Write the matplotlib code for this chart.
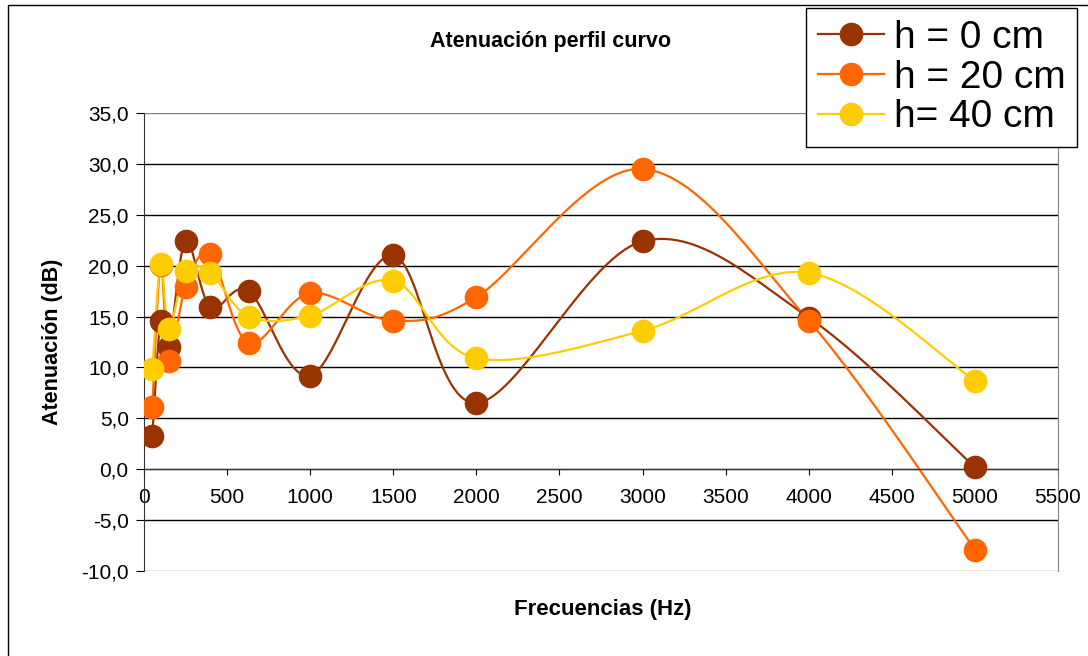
import numpy as np
import matplotlib as mpl
mpl.use('Agg')
import matplotlib.pyplot as plt
from matplotlib.patches import Rectangle

mpl.rcParams['font.family'] = ['Liberation Sans', 'DejaVu Sans']

freqs = [50, 100, 150, 250, 400, 630, 1000, 1500, 2000, 3000, 4000, 5000]
h0 = [3.3, 14.6, 12.0, 22.4, 15.9, 17.5, 9.2, 21.0, 6.5, 22.4, 14.9, 0.2]
h20 = [6.1, 20.1, 10.6, 17.9, 21.1, 12.4, 17.3, 14.6, 16.9, 29.5, 14.6, -7.9]
h40 = [9.8, 20.2, 13.8, 19.5, 19.3, 15.0, 15.1, 18.5, 10.9, 13.6, 19.3, 8.7]
labels = ['h = 0 cm', 'h = 20 cm', 'h= 40 cm']
colors = ['#993300', '#FF6600', '#FFCC00']
yticks = np.arange(-10, 36, 5)
xticks = np.arange(0, 5501, 500)


def smooth(ax, x, y, n=30):
    # excel-like bezier smoothing done in screen coordinates
    pts = ax.transData.transform(np.column_stack([x, y]))
    out = []
    for i in range(len(pts) - 1):
        p0 = pts[max(i - 1, 0)]
        p1 = pts[i]
        p2 = pts[i + 1]
        p3 = pts[min(i + 2, len(pts) - 1)]
        c1 = p1 + (p2 - p0) / 6.0
        c2 = p2 - (p3 - p1) / 6.0
        t = np.linspace(0, 1, n)[:, None]
        seg = ((1 - t) ** 3) * p1 + 3 * ((1 - t) ** 2) * t * c1 + 3 * (1 - t) * t ** 2 * c2 + t ** 3 * p2
        out.append(seg)
    out = np.vstack(out)
    return ax.transData.inverted().transform(out)


fig = plt.figure(figsize=(10.88, 6.56), dpi=100)
ax = fig.add_axes([144 / 1088, 1 - 571 / 656, (1058 - 144) / 1088, (571 - 113) / 656])

# outer chart frame
fig.patches.append(Rectangle((8 / 1088, -0.1), 1.2, 1 - 5 / 656 + 0.1, transform=fig.transFigure,
                             fill=False, edgecolor='black', lw=1))

ax.set_xlim(0, 5500)
ax.set_ylim(-10, 35)

for yv in yticks:
    ax.axhline(yv, color='gray' if yv in (-10, 35) else 'black', lw=1, zorder=1)

for vals, col, lab in zip([h0, h20, h40], colors, labels):
    xy = smooth(ax, freqs, vals)
    ax.plot(xy[:, 0], xy[:, 1], color=col, lw=1.6, zorder=2)
    ax.plot(freqs, vals, 'o', color=col, ms=16, zorder=3)
    ax.plot([], [], '-o', color=col, ms=16, lw=1.6, label=lab)

ax.spines['top'].set_visible(False)
ax.spines['right'].set_color('gray')
ax.spines['bottom'].set_position(('data', 0))
ax.spines['bottom'].set_color('#333333')
ax.spines['left'].set_color('#333333')

ax.set_yticks(yticks)
ax.set_yticklabels(['{:.1f}'.format(v).replace('.', ',') for v in yticks], fontsize=15)
ax.set_xticks(xticks)
ax.set_xticklabels([str(v) for v in xticks], fontsize=15)
ax.tick_params(axis='y', direction='out', length=6, pad=5)
ax.tick_params(axis='x', direction='out', length=4, pad=9.5)

fig.text(550 / 1088, 1 - 41 / 656, 'Atenuación perfil curvo', ha='center', va='center',
         fontsize=15.5, fontweight='bold')
fig.text(603 / 1088, 1 - 610 / 656, 'Frecuencias (Hz)', ha='center', va='center',
         fontsize=16, fontweight='bold')
fig.text(53 / 1088, 1 - 342 / 656, 'Atenuación (dB)', ha='center', va='center',
         fontsize=15.5, fontweight='bold', rotation=90)

leg = fig.legend(loc='upper left', bbox_to_anchor=(806 / 1088, 1 - 8 / 656), fontsize=28,
                 frameon=True, fancybox=False, edgecolor='black', framealpha=1,
                 handlelength=1.7, labelspacing=0.1, borderpad=0.3, handletextpad=0.25,
                 borderaxespad=0)
leg.get_frame().set_linewidth(1)

plt.savefig('out.png', dpi=100)
